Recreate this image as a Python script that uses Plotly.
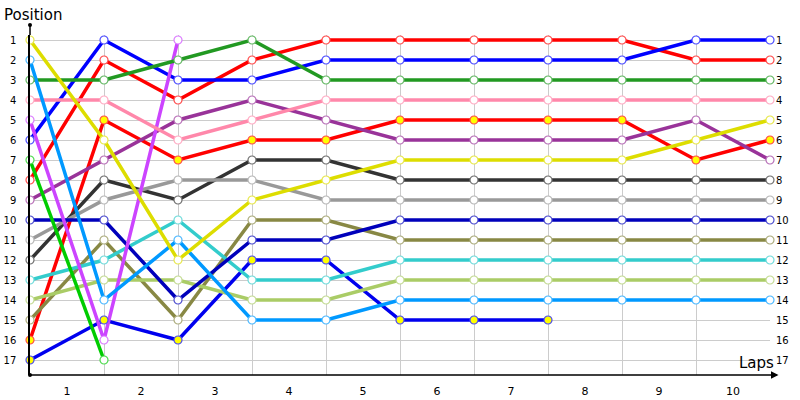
import plotly.graph_objects as go

# lap boundaries (0 = start grid) and the position of each car at each one
laps = list(range(11))
lap_labels = [str(i) for i in range(1, 11)]
positions_axis = list(range(1, 18))

car_yellow = [1, 6, 12, 9, 8, 7, 7, 7, 7, 6, 5]
car_lightblue = [2, 14, 11, 15, 15, 14, 14, 14, 14, 14, 14]
car_green = [3, 3, 2, 1, 3, 3, 3, 3, 3, 3, 3]
car_pink = [4, 4, 6, 5, 4, 4, 4, 4, 4, 4, 4]
car_violet = [5, 16, 1]
car_blue = [6, 1, 3, 3, 2, 2, 2, 2, 2, 1, 1]
car_lime = [7, 17]
car_red = [8, 2, 4, 2, 1, 1, 1, 1, 1, 2, 2]
car_purple = [9, 7, 5, 4, 5, 6, 6, 6, 6, 5, 7]
car_navy = [10, 10, 14, 11, 11, 10, 10, 10, 10, 10, 10]
car_grey = [11, 9, 8, 8, 9, 9, 9, 9, 9, 9, 9]
car_black = [12, 8, 9, 7, 7, 8, 8, 8, 8, 8, 8]
car_teal = [13, 12, 10, 13, 13, 12, 12, 12, 12, 12, 12]
car_sage = [14, 13, 13, 14, 14, 13, 13, 13, 13, 13, 13]
car_olive = [15, 11, 15, 10, 10, 11, 11, 11, 11, 11, 11]
car_red2 = [16, 5, 7, 6, 6, 5, 5, 5, 5, 7, 6]
car_blue2 = [17, 15, 16, 12, 12, 15, 15, 15]

cars = [car_yellow, car_lightblue, car_green, car_pink, car_violet, car_blue,
        car_lime, car_red, car_purple, car_navy, car_grey, car_black,
        car_teal, car_sage, car_olive, car_red2, car_blue2]
colors = ['#dddd00', '#0099ff', '#229922', '#ff88aa', '#cc44ff', '#0000ff',
          '#00cc00', '#ff0000', '#993399', '#0000bb', '#999999', '#333333',
          '#33cccc', '#aacc66', '#888844', '#ff0000', '#0000ee']
highlighted = [False] * 15 + [True, True]


def tint(hex_color, amount=0.3):
    # lighter outline for the markers
    r, g, b = (int(hex_color[i:i + 2], 16) for i in (1, 3, 5))
    r, g, b = (round(c + (255 - c) * amount) for c in (r, g, b))
    return f'rgb({r},{g},{b})'


fig = go.Figure()

# lines first (first car drawn last so it sits on top)
for pos, col in reversed(list(zip(cars, colors))):
    fig.add_trace(go.Scatter(
        x=laps[:len(pos)], y=pos, mode='lines',
        line=dict(color=col, width=3.5),
        hoverinfo='skip', showlegend=False, cliponaxis=False
    ))

# markers on top of every line
for pos, col, hl in zip(cars, colors, highlighted):
    fig.add_trace(go.Scatter(
        x=laps[:len(pos)], y=pos, mode='markers',
        marker=dict(size=8, color='#ffff00' if hl else 'white',
                    line=dict(color=tint(col), width=1.2)),
        showlegend=False, cliponaxis=False
    ))

# empty trace so the right-hand position labels get drawn
fig.add_trace(go.Scatter(x=[], y=[], yaxis='y2', showlegend=False))

font = 'DejaVu Sans'

fig.update_layout(
    width=800, height=400,
    margin=dict(l=30, r=30, t=35, b=25, autoexpand=False),
    plot_bgcolor='white', paper_bgcolor='white',
    font=dict(family=font, size=10, color='black'),
    xaxis=dict(
        range=[0, 10], tickvals=[i + 0.5 for i in range(10)], ticktext=lap_labels,
        showgrid=False, zeroline=False, showline=False, automargin=False,
        ticks='outside', ticklen=6, tickcolor='rgba(0,0,0,0)',
        tickfont=dict(size=11),
        minor=dict(tick0=0, dtick=1, showgrid=True, gridcolor='#cccccc', gridwidth=1),
    ),
    yaxis=dict(
        range=[17.75, 0.75], tickvals=positions_axis, automargin=False,
        showgrid=True, gridcolor='#cccccc', gridwidth=1, zeroline=False,
        showline=True, linecolor='black', linewidth=1.5,
        ticks='outside', ticklen=10, tickcolor='rgba(0,0,0,0)',
    ),
    yaxis2=dict(
        range=[17.75, 0.75], tickvals=positions_axis, overlaying='y', side='right',
        showgrid=False, zeroline=False, showline=False, automargin=False,
        ticks='outside', ticklen=3, tickcolor='rgba(0,0,0,0)',
    ),
    annotations=[
        dict(text='Position', xref='paper', yref='paper', x=0, y=1, xshift=-28, yshift=9,
             xanchor='left', yanchor='bottom', showarrow=False,
             font=dict(family=font, size=15)),
        dict(text='Laps', xref='paper', yref='paper', x=1, y=0, xshift=6, yshift=1,
             xanchor='right', yanchor='bottom', showarrow=False,
             font=dict(family=font, size=15)),
        # x axis drawn as an arrow running a bit past the last lap
        dict(text='', xref='paper', yref='paper', x=1.0115, y=0,
             axref='pixel', ayref='pixel', ax=-749, ay=0,
             showarrow=True, arrowhead=2, arrowsize=1, arrowwidth=1.5, arrowcolor='black'),
    ],
    shapes=[
        # y axis continues a little above the grid, ending in a dot
        dict(type='line', xref='paper', yref='paper', ysizemode='pixel',
             x0=0, x1=0, yanchor=1, y0=0, y1=10, line=dict(color='black', width=1.5)),
        dict(type='circle', xref='paper', yref='paper', xsizemode='pixel', ysizemode='pixel',
             xanchor=0, yanchor=1, x0=-2, x1=2, y0=8, y1=12,
             fillcolor='black', line=dict(width=0)),
        dict(type='circle', xref='paper', yref='paper', xsizemode='pixel', ysizemode='pixel',
             xanchor=0, yanchor=0, x0=-2, x1=2, y0=-2, y1=2,
             fillcolor='black', line=dict(width=0)),
    ],
)

# drop the browser's default page margin so the figure sits at the top-left corner
fig.write_html('out.html', config={'displayModeBar': False},
               post_script="document.body.style.margin='0';")
